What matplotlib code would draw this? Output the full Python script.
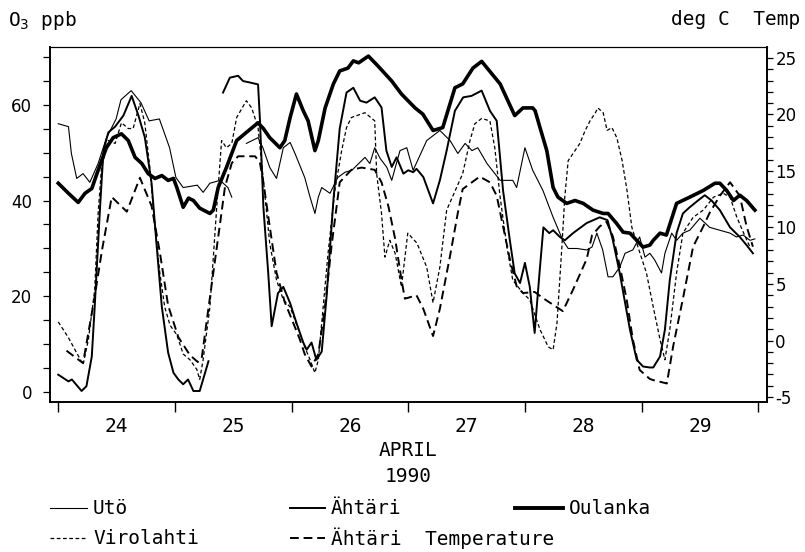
import numpy as np
import matplotlib
matplotlib.use("Agg")
import matplotlib.pyplot as plt
from matplotlib.lines import Line2D
from matplotlib.ticker import MultipleLocator, FixedLocator, NullFormatter

plt.rcParams['axes.unicode_minus'] = False
nan = np.nan

# hours from 24 April 00:00, ozone in ppb
uto_hour = [0, 2.1, 2.7, 3.8, 5.1, 6.5, 8.2, 9.9, 10.9, 11.9,
            12.9, 15, 17, 18.7, 20.8, 22.9, 24.2, 25.7, 28.6, 29.8,
            31.2, 33.3, 34.9, 35.7, nan, 38.7, 41.1, 42.1, 43.5, 44.9,
            46.3, 47.7, 48.7, 50.7, 51.8, 52.8, 53.5, 54.2, 55.9, 57.5,
            59, 60.4, 63.1, 64.1, 65.1, 66.2, 67.6, 68.6, 70.3, 71.7,
            73, 75.8, 78.5, 80.6, 82.2, 83.7, 85.1, 86.3, 88.2, 90.9,
            93.5, 94.3, 96, 97.6, 99.7, 101.8, 103.8, 104.9, 106.7, 108.7,
            109.8, 110.8, 112, 113.1, 114.1, 115.5, 116.6, 118.2, 119.6, 120.7,
            121.7, 122.7, 124.1, 124.8, 126.2, 127.2, 128.5, 129.9, 132, 134,
            136.1, 138.2, 139.5, 140.9, 142.3, 143.3]
uto_ppb = [56, 55.4, 49.8, 44.6, 45.6, 43.8, 47.7, 53, 55, 57,
           61, 62.9, 60.4, 56.6, 57, 51, 44.8, 42.7, 43.2, 41.7,
           43.6, 44.2, 42.7, 40.7, nan, 51.9, 53.1, 51, 46.9, 44.6,
           51, 52.1, 49.8, 44.8, 40.7, 37.3, 40.7, 42.7, 41.5, 44.8,
           45.9, 46.3, 49, 47.7, 51, 48.8, 46.9, 44.2, 50.4, 51,
           46.3, 52.5, 54.6, 52.5, 49.8, 51.9, 50.4, 51, 47.7, 44.2,
           44.2, 42.7, 51, 46.3, 42.1, 36.5, 31.7, 30, 30, 29.7,
           30.3, 33.2, 29.7, 24.1, 24.1, 26.1, 29, 29.7, 32.4, 28.2,
           29, 27.6, 24.9, 29, 33.2, 31.7, 33.2, 33.8, 36.3, 34.4,
           33.8, 33.2, 32.4, 32.8, 31.7, 32]

aht_hour = [0, 2.1, 2.8, 4.8, 5.8, 6.9, 7.5, 8.6, 9.3, 10.3,
            11.7, 13.4, 15.1, 16.5, 17.8, 19.2, 20.2, 21.3, 22.6, 23.7,
            24.7, 25.7, 26.7, 27.8, 29.1, 30.9, nan, 33.9, 35.3, 37,
            38, 39.4, 41.1, 41.5, 42.2, 43.2, 43.9, 45.2, 46.3, 47.7,
            49, 50.4, 51.1, 52.1, 53.1, 54.2, 55.2, 56.6, 57.9, 59.3,
            60.7, 62.1, 63.4, 65.1, 66.5, 67.5, 68.6, 69.6, 71, 72,
            73, 73.7, 75.1, 77.1, 78.5, 79.9, 81.6, 83.3, 85, 87.1,
            88.8, 90.2, 91.5, 92.9, 93.9, 95, 96, 97, 98, 99,
            99.8, 101, 101.8, 103.2, 104.2, 105.9, 108.7, 111.4, 113, 114.1,
            115.5, 117.6, 119, 120.3, 121.7, 122.4, 123.8, 124.8, 125.8, 127.2,
            128.5, 129.9, 131.6, 133, 134.4, 136.1, 138.2, 140.2, 141.6, 142.9]
aht_ppb = [3.7, 2.3, 2.7, 0.3, 1.3, 7.5, 17.9, 38.6, 50.4, 54.2,
           55.4, 57.7, 61.8, 57.7, 53.2, 43.6, 31.1, 17.9, 8.3, 4.1,
           2.7, 1.7, 2.7, 0.3, 0.3, 6.5, nan, 62.5, 65.6, 66,
           64.9, 64.6, 64.2, 56.6, 38.6, 24.8, 13.8, 20.7, 22, 18.6,
           14.5, 10.4, 8.9, 10.4, 6.8, 8.5, 20, 40, 55, 62.5,
           63.5, 60.8, 60.4, 61.5, 59.4, 50.4, 47, 49, 45.6, 46.3,
           45.9, 46.6, 44.9, 39.4, 44.2, 50.4, 58.7, 61.5, 61.8, 62.9,
           58.7, 56.6, 42.1, 31.7, 24.8, 22.8, 27, 22, 12.4, 24.9,
           34.4, 33.2, 33.8, 32.4, 31.7, 33.2, 35.3, 36.5, 35.9, 31.7,
           24.9, 13.1, 6.8, 5.4, 5.2, 5.2, 7.5, 13.1, 23.4, 33.2,
           37.3, 38.6, 40, 41.1, 40, 38, 34.4, 32.4, 30.7, 29]

oul_hour = [0, 2.1, 4.1, 5.5, 6.9, 8.2, 9.9, 11.3, 13, 14.4,
            15.8, 17.2, 18.5, 19.9, 21.3, 22.6, 23.7, 24.4, 25.7, 26.8,
            27.8, 29.1, 31.2, 31.9, 32.9, 34.6, 36.7, 38.7, 41.1, 42.2,
            43.5, 45.6, 46.6, 47.7, 49, 50.4, 51.4, 52.8, 53.5, 54.9,
            56.6, 57.9, 59.6, 60.7, 61.8, 63.8, 65.8, 68.6, 70.6, 73.4,
            75, 77.1, 79.1, 81.6, 83.2, 85.3, 87.1, 90.9, 93.9, 95.6,
            97.6, 98.1, 99.1, 100.5, 101.8, 102.8, 104.6, 106.3, 108, 110,
            112.1, 113.1, 114.8, 116.2, 117.6, 119, 120.3, 121.7, 122.4, 123.8,
            125.1, 127.2, 129.9, 132.7, 135.1, 136.1, 137.5, 138.9, 140.2, 141.6,
            143.3]
oul_ppb = [43.6, 41.5, 39.6, 41.5, 42.5, 46.3, 51, 53.1, 53.9, 52.5,
           49, 47.7, 45.6, 44.6, 45.2, 44.2, 44.6, 42.7, 38.6, 40.5,
           40, 38.4, 37.3, 38, 42.7, 46.9, 52.5, 54.2, 56.2, 55,
           53.1, 51, 52.5, 57.3, 62.2, 58.7, 56.6, 50.4, 52.5, 59.3,
           64.3, 67, 67.6, 69.1, 68.7, 70.1, 68, 64.9, 62.2, 59.3,
           58, 54.6, 55.2, 63.5, 64.3, 67.6, 69, 64.3, 57.7, 59.3,
           59.3, 58.7, 55.2, 50.4, 42.7, 40.7, 39.4, 40, 39.4, 38,
           37.3, 37.3, 35.3, 33.4, 33.2, 31.7, 30.3, 30.7, 31.7, 33.2,
           32.8, 39.4, 40.7, 42.1, 43.6, 43.6, 42.1, 40, 41.1, 40,
           38]

vir_hour = [0, 2.1, 5.1, 6.2, 7.5, 8.2, 8.9, 10.3, 11.7, 13,
            14.4, 15.4, 16.8, 17.8, 18.9, 19.9, 20.9, 21.9, 23, 24.4,
            25.7, 27.1, 28.5, 29.1, 29.8, 31.2, 32.6, 33.6, 34.6, 35.7,
            36.7, 38.7, 39.8, 41.1, 42.2, 43.5, 44.9, 46.3, 47.7, 49.4,
            50.7, 51.8, 52.8, 53.5, 54.2, 55.5, 56.9, 58.3, 59.3, 60.3,
            63.1, 65.1, 65.5, 66.5, 67.2, 68.2, 69.3, 70.6, 71.9, 73.8,
            75.8, 77.1, 78.5, 79.9, 83.2, 84.7, 85.7, 87.1, 88.8, 89.8,
            90.9, 92.3, 93.5, 95.6, 97, 99.1, 100.8, 101.8, 102.6, 103.6,
            104.2, 104.9, 106.3, 107.3, 108.4, 109.4, 110.5, 111, 112.1, 112.9,
            113.9, 114.9, 116, 117, 118, 119, 121, 122.4, 123.8, 124.8,
            125.8, 127.2, 128.5, 130.6, 132.7, 134.8, 136.8, 138.2, 139.6, 141,
            142.3]
vir_ppb = [14.7, 11.4, 5.8, 11, 21.4, 37.3, 46.9, 52.5, 51.9, 56.2,
           55, 55, 60.2, 56.2, 46.3, 34.4, 24.9, 17.8, 14, 12,
           8, 6.8, 4.8, 2.7, 6.8, 17.8, 38.6, 52.5, 51, 51.9,
           57.3, 60.8, 59.3, 55.2, 44.2, 31.1, 23.4, 19.3, 17.8, 13.1,
           9.5, 6.8, 4.1, 6.8, 14.5, 29, 42.1, 50.4, 55.2, 57.3,
           58.3, 56.6, 45.6, 37.3, 28.2, 31.7, 29, 22, 33.2, 31.1,
           26.1, 18.7, 26.1, 38, 45.6, 52.5, 56, 57.1, 56.6, 51,
           40.7, 30.3, 23.4, 20.7, 19.3, 13.1, 9.5, 8.9, 14.5, 30.3,
           40.7, 48.3, 50.4, 51.9, 54.6, 56.6, 58.3, 59.3, 58.3, 54.6,
           55.2, 53.1, 48.3, 42.1, 34.4, 31.1, 24.9, 17.8, 11, 6.8,
           13.1, 24.9, 33.2, 36.5, 38, 40.7, 41.5, 40.7, 36.5, 33.2,
           30.3]

# Ahtari temperature, deg C (right axis)
tmp_hour = [1.7, 5.1, 7.5, 9, 11, 14.1, 16.8, 19.2, 20.9, 22.6,
            24.7, 27.1, 28.7, 29.5, 30.5, 31.9, 33.3, 34.3, 35.7, 37,
            40.5, 41.5, 42.2, 43.5, 44.9, 46.6, 48.3, 49.7, 50.7, 52.1,
            53.5, 54.9, 56.2, 57.9, 60.3, 62.4, 65.1, 66.5, 67.9, 69.3,
            70.6, 71.3, 73.7, 75.1, 77.1, 78.5, 80.6, 82.2, 83.2, 85.1,
            86.7, 88.8, 90.2, 91.5, 92.9, 94.3, 95.6, 98, 99.9, 103.8,
            105.9, 108.7, 109.8, 111.4, 112.8, 114.1, 115.5, 116.9, 118.2, 119.6,
            121.7, 122.4, 125.2, 126.5, 128.5, 130.6, 132.7, 134, 136.1, 138.2,
            140.2, 141.6, 142.9]
tmp_degc = [-0.9, -2.0, 3.9, 8, 12.7, 11.4, 14.4, 11.9, 7.8, 3.1,
            0.3, -1.3, -1.9, -1.6, 1.6, 6, 10.4, 13.6, 15.7, 16.3,
            16.3, 15.7, 14, 10.1, 6, 3.4, 1.6, 0.1, -1.2, -2.3,
            -1.2, 3.1, 8.3, 14, 15.1, 15.3, 15.1, 14, 11.9, 9,
            5.4, 3.7, 4, 2.8, 0.4, 2.8, 7.5, 11.3, 13.4, 14,
            14.5, 14, 12.8, 10.1, 7.2, 4.8, 4.2, 4.3, 3.7, 2.6,
            4.5, 7.2, 9.3, 10.1, 10.5, 9.2, 6.6, 3.7, 0.1, -2.6,
            -3.4, -3.5, -3.8, -0.5, 3.7, 8.3, 10.1, 11.3, 12.8, 14,
            12.8, 10.1, 8.3]

day_labels = ['24', '25', '26', '27', '28', '29']

mono = 'DejaVu Sans Mono'

fig = plt.figure(figsize=(8.05, 5.52), dpi=100)
ax = fig.add_axes([0.0621, 0.2717, 0.8907, 0.6432])
ax2 = ax.twinx()

ax.plot(uto_hour, uto_ppb, color='black', lw=0.8)
ax.plot(aht_hour, aht_ppb, color='black', lw=1.4)
ax.plot(oul_hour, oul_ppb, color='black', lw=2.6, solid_joinstyle='round')
ax.plot(vir_hour, vir_ppb, color='black', lw=0.9, dashes=(3, 2))
ax2.plot(tmp_hour, tmp_degc, color='black', lw=1.4, dashes=(4.5, 2.5))

ax.set_xlim(-1.7, 145.8)
ax.set_ylim(-2, 72)
ax2.set_ylim(-5.44, 25.97)

ax.xaxis.set_major_locator(MultipleLocator(24))
ax.xaxis.set_major_formatter(NullFormatter())
ax.xaxis.set_minor_locator(FixedLocator([12 + 24 * i for i in range(len(day_labels))]))
ax.set_xticklabels(day_labels, minor=True, fontfamily=mono, fontsize=14)
ax.tick_params(axis='x', which='major', direction='out', length=7, width=1)
ax.tick_params(axis='x', which='minor', length=0, pad=11)

ax.yaxis.set_major_locator(MultipleLocator(20))
ax.yaxis.set_minor_locator(MultipleLocator(5))
ax.tick_params(axis='y', which='both', direction='out', length=5, width=0.9,
               labelsize=12, pad=8)

ax2.yaxis.set_major_locator(MultipleLocator(5))
ax2.yaxis.set_minor_locator(MultipleLocator(1))
ax2.tick_params(axis='y', which='both', direction='out', length=4, width=0.9,
                labelsize=12, pad=2)

for a in (ax, ax2):
    for side in ('left', 'bottom', 'right'):
        a.spines[side].set_linewidth(1.2)
    a.spines['top'].set_linewidth(0.8)

fig.text(0.010, 0.962, r'O$_3$ ppb', fontfamily=mono, fontsize=14, va='center')
fig.text(0.994, 0.964, 'deg C  Temp', fontfamily=mono, fontsize=14,
         va='center', ha='right')
fig.text(0.507, 0.183, 'APRIL', fontfamily=mono, fontsize=14, ha='center', va='center')
fig.text(0.507, 0.136, '1990', fontfamily=mono, fontsize=14, ha='center', va='center')

# legend keys
legend_rows = [
    ('Utö', 0.8, None, 50, 87, 0.079),
    ('Ähtäri', 1.4, None, 290, 325, 0.079),
    ('Oulanka', 2.8, None, 515, 563, 0.079),
    ('Virolahti', 0.9, (3, 2), 50, 87, 0.025),
    ('Ähtäri  Temperature', 1.4, (4.5, 2.5), 290, 325, 0.025),
]
for label, lw, dash, x0, x1, yy in legend_rows:
    ln = Line2D([x0 / 805, x1 / 805], [yy, yy], transform=fig.transFigure,
                color='black', lw=lw)
    if dash:
        ln.set_dashes(dash)
    fig.add_artist(ln)
    fig.text((x1 + 6) / 805, yy, label, fontfamily=mono, fontsize=14, va='center')

fig.savefig('out.png', dpi=100)
